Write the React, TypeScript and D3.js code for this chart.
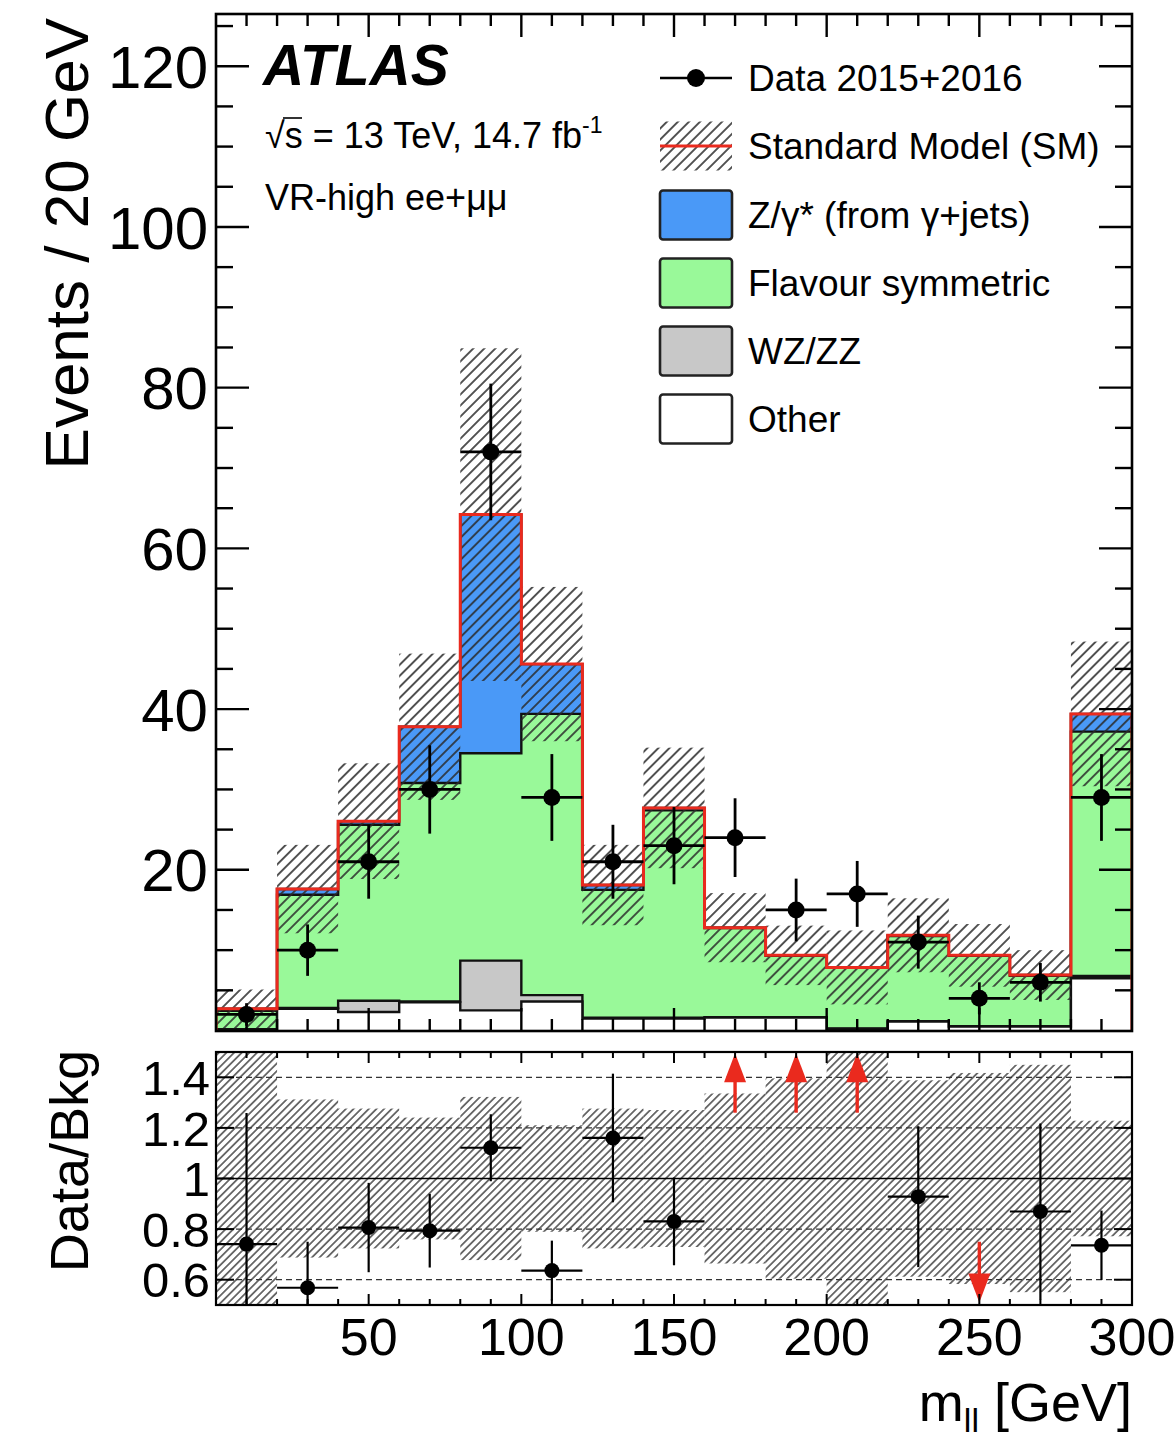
import React from "react";
import * as d3 from "d3";

// m_ll binning (GeV) and per-bin contents
const massEdges = [0, 20, 40, 60, 80, 100, 120, 140, 160, 180, 200, 220, 240, 260, 280, 300];
const dataCounts = [2, 10, 21, 30, 72, 29, 21, 23, 24, 15, 17, 11, 4, 6, 29];
const dataErrors = [1.4, 3.2, 4.6, 5.5, 8.5, 5.4, 4.6, 4.8, 4.9, 3.9, 4.1, 3.3, 2.0, 2.4, 5.4];
const otherBkg = [0.1, 2.7, 2.3, 3.5, 2.5, 3.6, 1.5, 1.5, 1.6, 1.6, 0.2, 1.1, 0.5, 0.5, 6.5];
const dibosonBkg = [0.05, 0.1, 1.4, 0.1, 6.2, 0.8, 0.1, 0.1, 0.05, 0.05, 0.05, 0.05, 0.05, 0.05, 0.3];
const flavourSymBkg = [2.3, 14.1, 21.9, 27.2, 25.8, 35.0, 15.9, 25.8, 11.1, 7.65, 7.55, 10.6, 8.75, 6.25, 30.4];
const zGammaBkg = [0.25, 0.7, 0.45, 7.0, 29.7, 6.2, 0.6, 0.3, 0.05, 0.05, 0.05, 0.1, 0.05, 0.1, 2.2];
const smUncertainty = [2.4, 5.5, 7.2, 9.1, 20.7, 9.6, 5.0, 7.5, 4.3, 3.7, 4.6, 4.6, 3.9, 3.1, 9.0];

const xTickValues = [50, 100, 150, 200, 250, 300];
const xTickLabels = ["50", "100", "150", "200", "250", "300"];
const yTickValues = [20, 40, 60, 80, 100, 120];
const yTickLabels = ["20", "40", "60", "80", "100", "120"];
const ratioTickValues = [0.6, 0.8, 1, 1.2, 1.4];
const ratioTickLabels = ["0.6", "0.8", "1", "1.2", "1.4"];

const legendLabels = [
  "Data 2015+2016",
  "Standard Model (SM)",
  "Z/γ* (from γ+jets)",
  "Flavour symmetric",
  "WZ/ZZ",
  "Other",
];

const FONT = "'Liberation Sans', Arial, Helvetica, sans-serif";
const BLUE = "#4a99f7";
const GREEN = "#99f999";
const GREY = "#c8c8c8";
const RED = "#ea2a1e";

export default function App() {
  const W = 1174;
  const H = 1438;
  const L = 216;
  const R = 1132;
  const mainTop = 14;
  const mainBottom = 1031;
  const ratioTop = 1052;
  const ratioBottom = 1305;

  const x = d3.scaleLinear().domain([0, 300]).range([L, R]);
  const y = d3.scaleLinear().domain([0, 126.5]).range([1030.5, mainTop]);
  const yr = d3.scaleLinear().domain([0.5, 1.5]).range([ratioBottom, ratioTop]);

  const nBins = dataCounts.length;

  // cumulative stack, bottom to top
  const stacked = d3
    .stack<number>()
    .keys(["other", "diboson", "flav", "zgamma"])
    .value((i, key) =>
      key === "other" ? otherBkg[i] : key === "diboson" ? dibosonBkg[i] : key === "flav" ? flavourSymBkg[i] : zGammaBkg[i]
    )(d3.range(nBins));
  const cumOther = stacked[0].map((d) => d[1]);
  const cumDiboson = stacked[1].map((d) => d[1]);
  const cumFlav = stacked[2].map((d) => d[1]);
  const total = stacked[3].map((d) => d[1]);

  const step = d3
    .line<[number, number]>()
    .x((d) => x(d[0]))
    .y((d) => y(d[1]))
    .curve(d3.curveStepAfter);
  const histPath = (vals: number[]) =>
    step([
      [massEdges[0], 0],
      ...vals.map((v, i) => [massEdges[i], v] as [number, number]),
      [massEdges[nBins], 0],
    ]) as string;

  const layers = [
    { vals: total, fill: BLUE },
    { vals: cumFlav, fill: GREEN },
    { vals: cumDiboson, fill: GREY },
    { vals: cumOther, fill: "#ffffff" },
  ];

  const centers = d3.range(nBins).map((i) => (massEdges[i] + massEdges[i + 1]) / 2);

  // tick positions
  const xMinor = d3.range(10, 300, 10);
  const yMinor = d3.range(5, 126, 5);

  const legendRows = [78, 146, 215, 283, 351, 419];
  const boxX0 = 660;
  const boxX1 = 732;
  const boxH = 49;

  return (
    <svg
      width={W}
      height={H}
      style={{ position: "absolute", left: 0, top: 0 }}
      fontFamily={FONT}
    >
      <defs>
        <pattern
          id="hatchMain"
          patternUnits="userSpaceOnUse"
          width={7.8}
          height={7.8}
          patternTransform="rotate(45)"
        >
          <line x1={3.9} y1={-1} x2={3.9} y2={8.8} stroke="#2a2a2a" strokeWidth={1.6} />
        </pattern>
        <pattern
          id="hatchRatio"
          patternUnits="userSpaceOnUse"
          width={5.4}
          height={5.4}
          patternTransform="rotate(45)"
        >
          <line x1={2.7} y1={-1} x2={2.7} y2={6.4} stroke="#2a2a2a" strokeWidth={1.3} />
        </pattern>
        <clipPath id="clipMain">
          <rect x={L} y={mainTop} width={R - L} height={mainBottom - mainTop} />
        </clipPath>
        <clipPath id="clipRatio">
          <rect x={L} y={ratioTop} width={R - L} height={ratioBottom - ratioTop} />
        </clipPath>
      </defs>

      <rect x={0} y={0} width={W} height={H} fill="#ffffff" />

      {/* ===== Main panel ===== */}
      <g clipPath="url(#clipMain)">
        {layers.map((ly, k) => (
          <path key={k} d={histPath(ly.vals)} fill={ly.fill} stroke="#111" strokeWidth={2.4} strokeLinejoin="miter" />
        ))}
        {total.map((t, i) => (
          <rect
            key={i}
            x={x(massEdges[i])}
            width={x(massEdges[i + 1]) - x(massEdges[i])}
            y={y(t + smUncertainty[i])}
            height={y(t - smUncertainty[i]) - y(t + smUncertainty[i])}
            fill="url(#hatchMain)"
          />
        ))}
        <path d={histPath(total)} fill="none" stroke={RED} strokeWidth={3} />
        {dataCounts.map((c, i) => (
          <g key={i} stroke="#000" strokeWidth={2.8}>
            <line x1={x(centers[i])} x2={x(centers[i])} y1={y(c - dataErrors[i])} y2={y(c + dataErrors[i])} />
            <line x1={x(massEdges[i])} x2={x(massEdges[i + 1])} y1={y(c)} y2={y(c)} />
            <circle cx={x(centers[i])} cy={y(c)} r={8.5} fill="#000" stroke="none" />
          </g>
        ))}
      </g>

      {/* main axes ticks */}
      <g stroke="#000" strokeWidth={2.4}>
        {xMinor.map((v) => {
          const len = v % 50 === 0 ? 23 : 12;
          return (
            <g key={v}>
              <line x1={x(v)} x2={x(v)} y1={mainTop} y2={mainTop + len} />
              <line x1={x(v)} x2={x(v)} y1={mainBottom} y2={mainBottom - len} />
            </g>
          );
        })}
        {yMinor.map((v) => {
          const len = v % 20 === 0 ? 33 : 17;
          return (
            <g key={v}>
              <line x1={L} x2={L + len} y1={y(v)} y2={y(v)} />
              <line x1={R} x2={R - len} y1={y(v)} y2={y(v)} />
            </g>
          );
        })}
      </g>
      <rect x={L} y={mainTop} width={R - L} height={mainBottom - mainTop} fill="none" stroke="#000" strokeWidth={2.6} />

      {/* main y labels */}
      {yTickValues.map((v, i) => (
        <text key={v} x={208} y={y(v)} dy="0.36em" textAnchor="end" fontSize={60} fill="#000">
          {yTickLabels[i]}
        </text>
      ))}
      <text transform="translate(88,18) rotate(-90)" textAnchor="end" fontSize={62} fill="#000">
        Events / 20 GeV
      </text>

      {/* ATLAS labels */}
      <text x={263} y={85} fontSize={57} fontWeight="bold" fontStyle="italic" fill="#000">
        ATLAS
      </text>
      <text x={265} y={148} fontSize={36} fill="#000">
        <tspan>√</tspan>
        <tspan>s = 13 TeV, 14.7 fb</tspan>
        <tspan fontSize={23} dy={-15}>-1</tspan>
      </text>
      <line x1={283} x2={302} y1={118} y2={118} stroke="#000" strokeWidth={1.6} />
      <text x={265} y={210} fontSize={36} fill="#000">
        VR-high ee+μμ
      </text>

      {/* legend */}
      <g>
        <line x1={boxX0} x2={boxX1} y1={legendRows[0]} y2={legendRows[0]} stroke="#000" strokeWidth={2.6} />
        <circle cx={(boxX0 + boxX1) / 2} cy={legendRows[0]} r={9} fill="#000" />
        <rect x={boxX0} y={legendRows[1] - boxH / 2} width={boxX1 - boxX0} height={boxH} fill="url(#hatchMain)" />
        <line x1={boxX0} x2={boxX1} y1={legendRows[1]} y2={legendRows[1]} stroke={RED} strokeWidth={3} />
        {[BLUE, GREEN, GREY, "#ffffff"].map((c, k) => (
          <rect
            key={k}
            x={boxX0}
            y={legendRows[k + 2] - boxH / 2}
            width={boxX1 - boxX0}
            height={boxH}
            rx={3}
            fill={c}
            stroke="#222"
            strokeWidth={2.6}
          />
        ))}
        {legendLabels.map((t, k) => (
          <text key={t} x={748} y={legendRows[k] + 13} fontSize={37} fill="#000">
            {t}
          </text>
        ))}
      </g>

      {/* ===== Ratio panel ===== */}
      <g clipPath="url(#clipRatio)">
        {total.map((t, i) => {
          const rel = smUncertainty[i] / t;
          return (
            <rect
              key={i}
              x={x(massEdges[i])}
              width={x(massEdges[i + 1]) - x(massEdges[i])}
              y={yr(1 + rel)}
              height={yr(1 - rel) - yr(1 + rel)}
              fill="url(#hatchRatio)"
            />
          );
        })}
        {[0.6, 0.8, 1.2, 1.4].map((v) => (
          <line key={v} x1={L} x2={R} y1={yr(v)} y2={yr(v)} stroke="#333" strokeWidth={1.2} strokeDasharray="6,4" />
        ))}
        <line x1={L} x2={R} y1={yr(1)} y2={yr(1)} stroke="#000" strokeWidth={1.6} />
        {dataCounts.map((c, i) => {
          const r = c / total[i];
          const e = dataErrors[i] / total[i];
          const cx = x(centers[i]);
          if (r > 1.5) {
            return (
              <g key={i} fill={RED} stroke={RED}>
                <line x1={cx} x2={cx} y1={yr(1.26)} y2={yr(1.4)} strokeWidth={3.4} />
                <polygon
                  points={`${cx},${yr(1.495)} ${cx - 11},${yr(1.38)} ${cx + 11},${yr(1.38)}`}
                  stroke="none"
                />
              </g>
            );
          }
          if (r < 0.5) {
            return (
              <g key={i} fill={RED} stroke={RED}>
                <line x1={cx} x2={cx} y1={yr(0.75)} y2={yr(0.61)} strokeWidth={3.4} />
                <polygon
                  points={`${cx},${yr(0.51)} ${cx - 11},${yr(0.625)} ${cx + 11},${yr(0.625)}`}
                  stroke="none"
                />
              </g>
            );
          }
          return (
            <g key={i} stroke="#000" strokeWidth={2.2}>
              <line x1={cx} x2={cx} y1={yr(r - e)} y2={yr(r + e)} />
              <line x1={x(massEdges[i])} x2={x(massEdges[i + 1])} y1={yr(r)} y2={yr(r)} />
              <circle cx={cx} cy={yr(r)} r={7.5} fill="#000" stroke="none" />
            </g>
          );
        })}
      </g>

      {/* ratio ticks */}
      <g stroke="#000" strokeWidth={2}>
        {xMinor.map((v) => {
          const len = v % 50 === 0 ? 11 : 6;
          return (
            <g key={v}>
              <line x1={x(v)} x2={x(v)} y1={ratioTop} y2={ratioTop + len} />
              <line x1={x(v)} x2={x(v)} y1={ratioBottom} y2={ratioBottom - len} />
            </g>
          );
        })}
        {ratioTickValues.map((v) => (
          <g key={v}>
            <line x1={L} x2={L + 18} y1={yr(v)} y2={yr(v)} />
            <line x1={R} x2={R - 18} y1={yr(v)} y2={yr(v)} />
          </g>
        ))}
      </g>
      <rect x={L} y={ratioTop} width={R - L} height={ratioBottom - ratioTop} fill="none" stroke="#000" strokeWidth={2.2} />

      {ratioTickValues.map((v, i) => (
        <text key={v} x={210} y={yr(v)} dy="0.36em" textAnchor="end" fontSize={49} fill="#000">
          {ratioTickLabels[i]}
        </text>
      ))}
      <text transform="translate(88,1050) rotate(-90)" textAnchor="end" fontSize={54} fill="#000">
        Data/Bkg
      </text>

      {xTickValues.map((v, i) => (
        <text key={v} x={x(v)} y={1355} textAnchor="middle" fontSize={52} fill="#000">
          {xTickLabels[i]}
        </text>
      ))}
      <text x={1132} y={1421} textAnchor="end" fontSize={54} fill="#000">
        <tspan>m</tspan>
        <tspan fontSize={34} dy={11}>ll</tspan>
        <tspan dy={-11}> [GeV]</tspan>
      </text>
    </svg>
  );
}
